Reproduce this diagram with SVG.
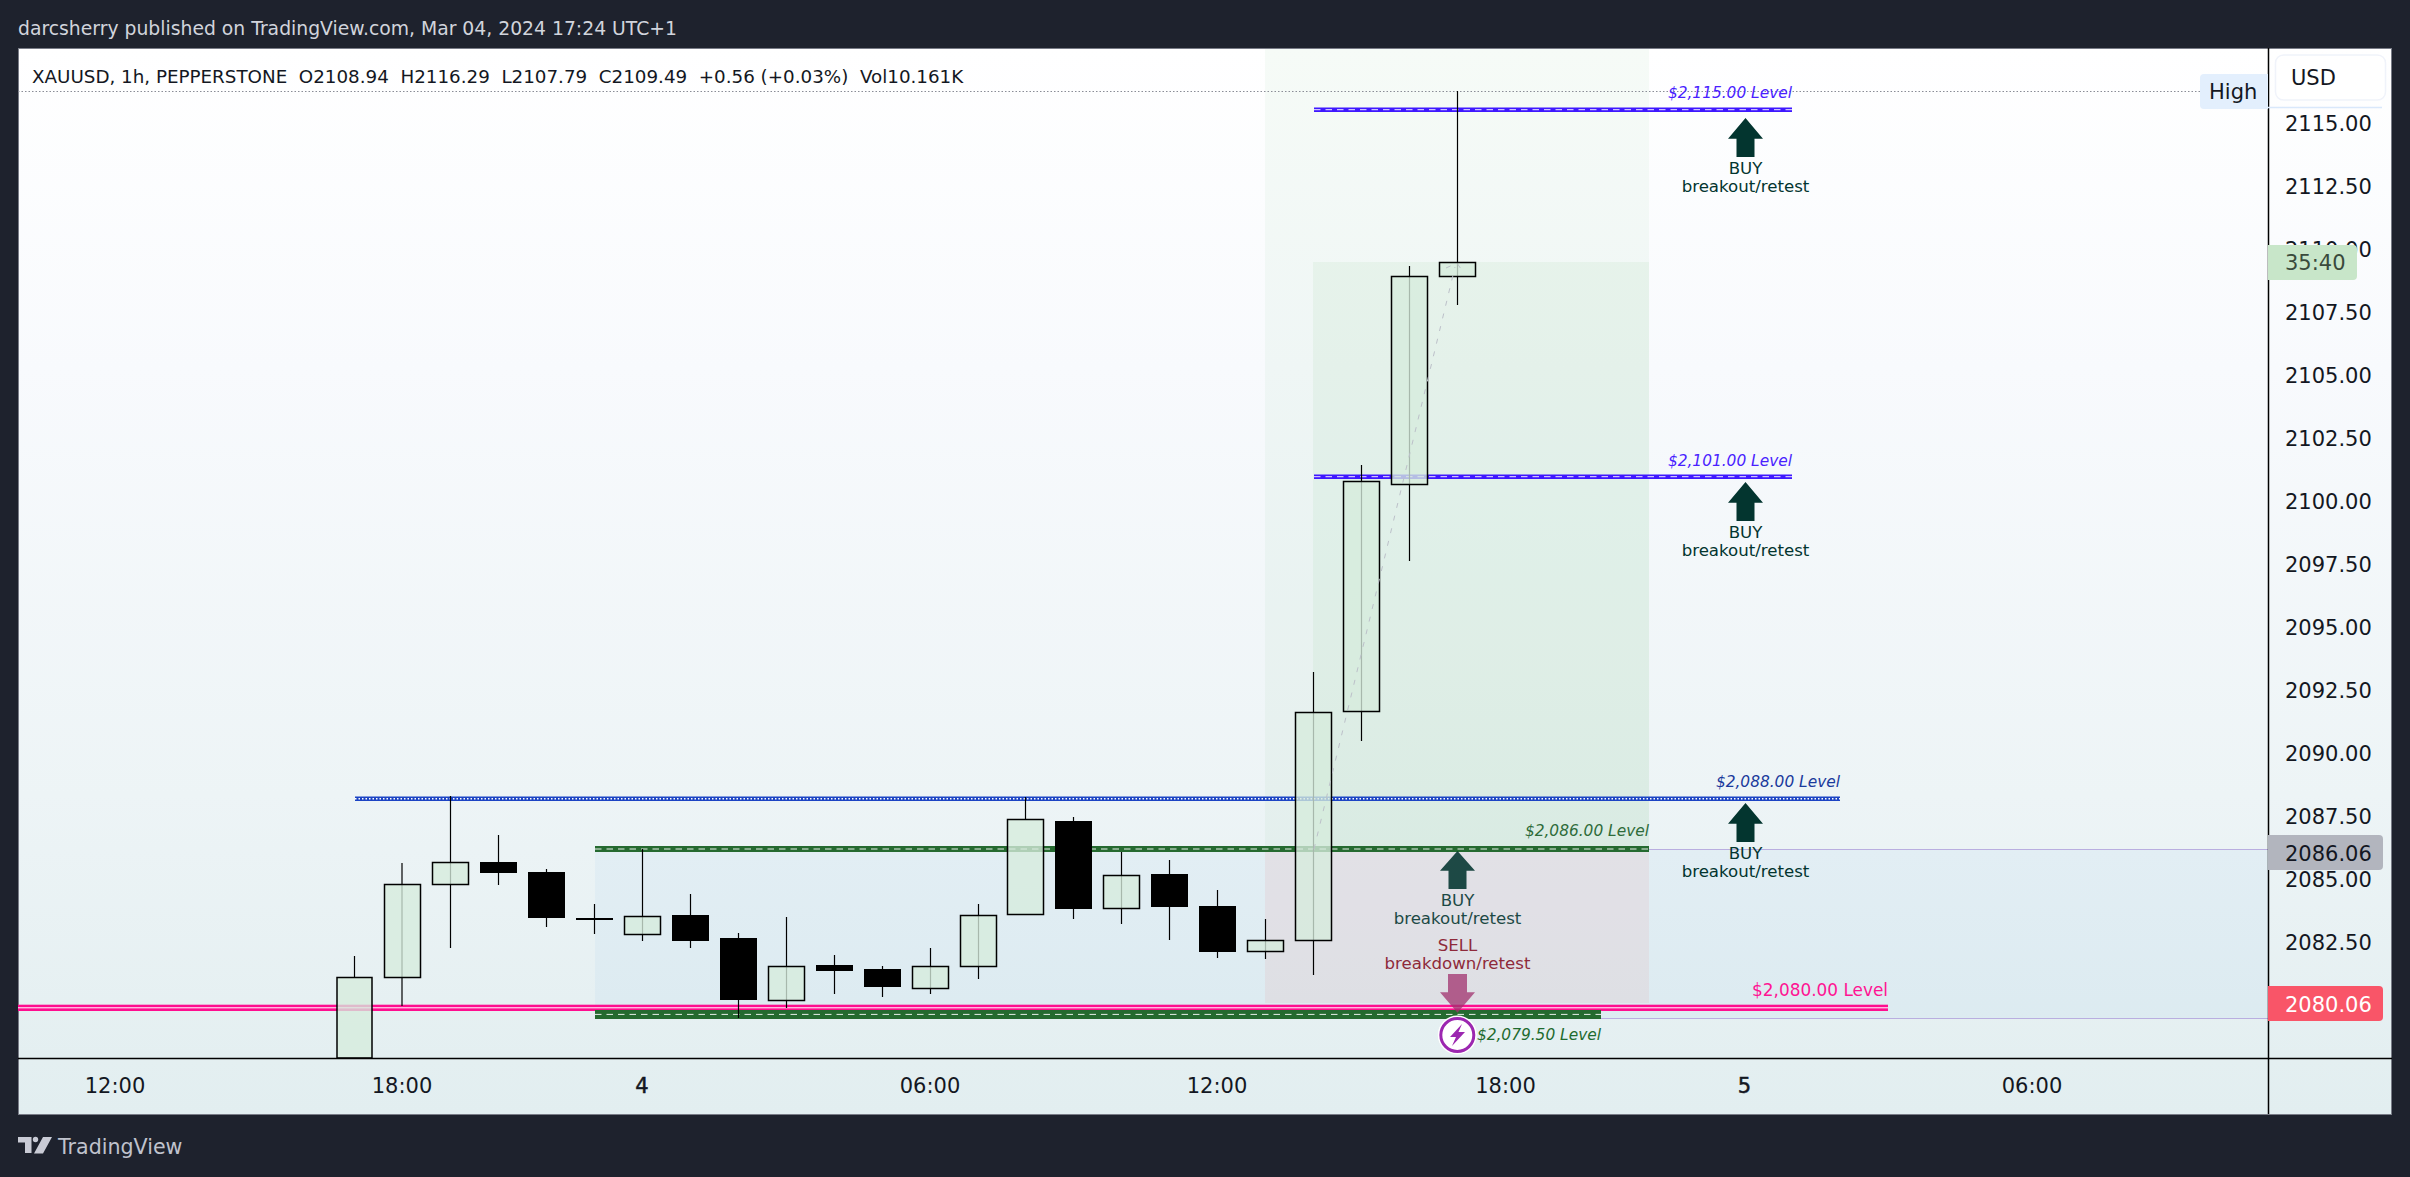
<svg xmlns="http://www.w3.org/2000/svg" width="2410" height="1177" viewBox="0 0 2410 1177">
<style>
text{font-family:"DejaVu Sans","Liberation Sans",sans-serif}
.up{fill:#d6ecdc;fill-opacity:.78;stroke:#000;stroke-width:1.5}
.dn{fill:#000}
.w{stroke:#000;stroke-width:1.2;fill:none}
.ax{font-size:21px;fill:#131722}
.tm{font-size:21px;fill:#131722;text-anchor:middle}
.md{stroke:#131722;stroke-width:.5}
.lv{font-size:15.4px;font-style:italic;text-anchor:end}
.bl{font-size:16.6px;fill:#03352f;text-anchor:middle}
.sl{font-size:16.6px;fill:#8e2a3a;text-anchor:middle}
.ar{fill:#03352f}
.ds{stroke:#fff;stroke-width:.9;stroke-dasharray:6.5 5;fill:none}
.do{stroke:#fff;stroke-width:1.5;stroke-dasharray:1.5 2;fill:none}
</style>
<defs>
<linearGradient id="bg" x1="0" y1="0" x2="0" y2="1">
<stop offset="0" stop-color="#fff"/><stop offset=".3" stop-color="#f8fafd"/><stop offset=".7" stop-color="#edf4f6"/><stop offset="1" stop-color="#e2eef0"/>
</linearGradient>
</defs>
<rect width="2410" height="1177" fill="#1e222d"/>
<text x="18" y="35" font-size="18.8" fill="#d1d4dc">darcsherry published on TradingView.com, Mar 04, 2024 17:24 UTC+1</text>
<rect id="chart" x="18.5" y="48.5" width="2373" height="1066" fill="url(#bg)" stroke="#787b86"/>

<g id="zones">
<rect x="595" y="850" width="1673" height="168" fill="#5aa8f5" fill-opacity=".06"/>
<path d="M1649 849.5H2268M1601 1018.5H2268" stroke="#b9aee0" stroke-width="1.2" fill="none"/>
<rect x="1265" y="49" width="384" height="801" fill="#7cc98a" fill-opacity=".07"/>
<rect x="1313" y="262" width="336" height="588" fill="#7cc98a" fill-opacity=".09"/>
<rect x="1265" y="850" width="384" height="153" fill="#e8a0a0" fill-opacity=".156"/>
</g>
<path id="high-line" d="M18 91.5H2200" stroke="#8a8d96" stroke-width="1" stroke-dasharray="1.5 2" fill="none"/>

<g id="level-2115"><rect x="1314" y="107.5" width="478" height="4.5" fill="#3f18ff"/><path class="ds" d="M1314 109.7H1792"/><text class="lv" x="1792" y="98" fill="#4a1fff">$2,115.00 Level</text></g>
<g id="level-2101"><rect x="1314" y="474.5" width="478" height="4.5" fill="#3f18ff"/><path class="ds" d="M1314 476.7H1792"/><text class="lv" x="1792" y="466" fill="#4a1fff">$2,101.00 Level</text></g>
<g id="level-2088"><rect x="355" y="796.5" width="1485" height="4.5" fill="#1c44c4"/><path class="do" d="M355 798.7H1840"/><text class="lv" x="1840" y="787" fill="#1a3a9c">$2,088.00 Level</text></g>
<g id="level-2086"><rect x="595" y="846" width="1054" height="6" fill="#256a30"/><path class="ds" d="M595 849H1649"/><text class="lv" x="1649" y="836" fill="#2e6b3a">$2,086.00 Level</text></g>
<g id="level-2080"><rect x="18" y="1004.7" width="1870" height="6.3" fill="#ff0d8f"/><path d="M18 1007.8H1888" stroke="#fff" stroke-width="1" fill="none"/><text class="lv" x="1888" y="996" fill="#ff1493" style="font-style:normal;font-size:16.9px">$2,080.00 Level</text></g>
<g id="level-2079"><rect x="595" y="1010" width="1006" height="9" fill="#256a30"/><path class="ds" d="M595 1014.4H1601"/><text class="lv" x="1601" y="1040" fill="#1f6b2f">$2,079.50 Level</text></g>

<g id="candles">
<g id="c1"><path class="w" d="M354.5 956V977"/><path class="up" d="M337 977.5H372V1058H337Z"/></g>
<g id="c2"><path class="w" d="M402 863V1006"/><rect class="up" x="384.5" y="884.5" width="36" height="93"/></g>
<g id="c3"><path class="w" d="M450.5 796V948"/><rect class="up" x="432.5" y="862.5" width="36" height="22"/></g>
<g id="c4"><path class="w" d="M498.5 835V885"/><rect class="dn" x="480" y="862" width="37" height="11"/></g>
<g id="c5"><path class="w" d="M546.5 869V927"/><rect class="dn" x="528" y="872" width="37" height="46"/></g>
<g id="c6"><path class="w" d="M594.5 904V934"/><rect class="dn" x="576" y="918" width="37" height="2"/></g>
<g id="c7"><path class="w" d="M642.5 849V941"/><rect class="up" x="624.5" y="916.5" width="36" height="18"/></g>
<g id="c8"><path class="w" d="M690.5 894V948"/><rect class="dn" x="672" y="915" width="37" height="26"/></g>
<g id="c9"><path class="w" d="M738.5 933V1018"/><rect class="dn" x="720" y="938" width="37" height="62"/></g>
<g id="c10"><path class="w" d="M786.5 917V1008"/><rect class="up" x="768.5" y="966.5" width="36" height="34"/></g>
<g id="c11"><path class="w" d="M834.5 955V994"/><rect class="dn" x="816" y="965" width="37" height="6"/></g>
<g id="c12"><path class="w" d="M882.5 966V997"/><rect class="dn" x="864" y="969" width="37" height="18"/></g>
<g id="c13"><path class="w" d="M930.5 948V994"/><rect class="up" x="912.5" y="966.5" width="36" height="22"/></g>
<g id="c14"><path class="w" d="M978.5 904V979"/><rect class="up" x="960.5" y="915.5" width="36" height="51"/></g>
<g id="c15"><path class="w" d="M1025.5 797V819"/><rect class="up" x="1007.5" y="819.5" width="36" height="95"/></g>
<g id="c16"><path class="w" d="M1073.5 817V919"/><rect class="dn" x="1055" y="821" width="37" height="88"/></g>
<g id="c17"><path class="w" d="M1121.5 852V924"/><rect class="up" x="1103.5" y="875.5" width="36" height="33"/></g>
<g id="c18"><path class="w" d="M1169.5 860V940"/><rect class="dn" x="1151" y="874" width="37" height="33"/></g>
<g id="c19"><path class="w" d="M1217.5 890V958"/><rect class="dn" x="1199" y="906" width="37" height="46"/></g>
<g id="c20"><path class="w" d="M1265.5 919V959"/><rect class="up" x="1247.5" y="940.5" width="36" height="11"/></g>
<g id="c21"><path class="w" d="M1313.5 672V975"/><rect class="up" x="1295.5" y="712.5" width="36" height="228"/></g>
<g id="c22"><path class="w" d="M1361.5 465V741"/><rect class="up" x="1343.5" y="481.5" width="36" height="230"/></g>
<g id="c23"><path class="w" d="M1409.5 266V561"/><rect class="up" x="1391.5" y="276.5" width="36" height="208"/></g>
<g id="c24"><path class="w" d="M1457.5 91V305"/><rect class="up" x="1439.5" y="262.5" width="36" height="14"/></g>
</g>

<g id="connectors">
<path d="M1314 849L1455 267M1446 268L1457 263L1463 272" stroke="#bcc0c9" stroke-width="1" stroke-dasharray="5 8" fill="none"/>
</g>

<g id="buy-2115"><path class="ar" d="M1745.5 118L1763 138.7H1754.5V157H1736.5V138.7H1728Z"/><text class="bl" x="1745.5" y="174">BUY</text><text class="bl" x="1745.5" y="192">breakout/retest</text></g>
<g id="buy-2101"><path class="ar" d="M1745.5 482L1763 502.7H1754.5V521H1736.5V502.7H1728Z"/><text class="bl" x="1745.5" y="538">BUY</text><text class="bl" x="1745.5" y="556">breakout/retest</text></g>
<g id="buy-2088"><path class="ar" d="M1745.5 803L1763 823.7H1754.5V842H1736.5V823.7H1728Z"/><text class="bl" x="1745.5" y="859">BUY</text><text class="bl" x="1745.5" y="877">breakout/retest</text></g>
<g id="buy-2086" opacity=".88"><path class="ar" d="M1457.5 851L1475 870.7H1466.5V889H1448.5V870.7H1440Z"/><text class="bl" x="1457.5" y="906">BUY</text><text class="bl" x="1457.5" y="924">breakout/retest</text></g>
<g id="sell-2080"><text class="sl" x="1457.5" y="951">SELL</text><text class="sl" x="1457.5" y="969">breakdown/retest</text><path d="M1448 974H1467V992.3H1475L1457.5 1012.7L1440 992.3H1448Z" fill="#a0326e" fill-opacity=".75"/></g>
<g id="flash"><circle cx="1457.3" cy="1035" r="19.5" fill="#fff"/><circle cx="1457.3" cy="1035" r="16.5" fill="#fff" stroke="#9c27b0" stroke-width="3"/><path d="M1462 1024L1450 1037H1456L1452 1046L1465 1032H1458.5Z" fill="#9c27b0"/></g>

<g id="legend"><text x="32" y="83" font-size="18.3" fill="#131722" xml:space="preserve">XAUUSD, 1h, PEPPERSTONE  O2108.94  H2116.29  L2107.79  C2109.49  +0.56 (+0.03%)  Vol10.161K</text></g>

<g id="axes">
<path d="M2268.5 48V1114M18 1058.5H2392" stroke="#000" stroke-width="1.5" fill="none"/>
<text class="tm" x="115" y="1093">12:00</text>
<text class="tm" x="402" y="1093">18:00</text>
<text class="tm md" x="642" y="1093">4</text>
<text class="tm" x="930" y="1093">06:00</text>
<text class="tm" x="1217" y="1093">12:00</text>
<text class="tm" x="1505.5" y="1093">18:00</text>
<text class="tm md" x="1744.5" y="1093">5</text>
<text class="tm" x="2032" y="1093">06:00</text>
<text class="ax" x="2285" y="131">2115.00</text>
<text class="ax" x="2285" y="194">2112.50</text>
<text class="ax" x="2285" y="257">2110.00</text>
<text class="ax" x="2285" y="320">2107.50</text>
<text class="ax" x="2285" y="383">2105.00</text>
<text class="ax" x="2285" y="446">2102.50</text>
<text class="ax" x="2285" y="509">2100.00</text>
<text class="ax" x="2285" y="572">2097.50</text>
<text class="ax" x="2285" y="635">2095.00</text>
<text class="ax" x="2285" y="698">2092.50</text>
<text class="ax" x="2285" y="761">2090.00</text>
<text class="ax" x="2285" y="824">2087.50</text>
<text class="ax" x="2285" y="887">2085.00</text>
<text class="ax" x="2285" y="950">2082.50</text>
</g>

<g id="usd"><path d="M2268 107.5H2382" stroke="#d9e8fb" stroke-width="1.5"/><rect x="2275.5" y="55" width="110" height="45" rx="8" fill="#fff" stroke="#f0f3fa" stroke-width="1.5"/><text x="2291" y="85" font-size="21" fill="#131722">USD</text></g>
<g id="high-tag"><path d="M2268 74H2204a4 4 0 0 0-4 4V105a4 4 0 0 0 4 4H2268Z" fill="#e3effd"/><text x="2209" y="99" font-size="21" fill="#131722">High</text></g>
<g id="countdown"><path d="M2268 245H2353a4 4 0 0 1 4 4V276a4 4 0 0 1-4 4H2268Z" fill="#c8e6c9"/><text x="2285" y="270" font-size="21" fill="#3a4a3c">35:40</text></g>
<g id="tag-2086"><path d="M2268 835H2379a4 4 0 0 1 4 4V866a4 4 0 0 1-4 4H2268Z" fill="#b2b5be"/><text x="2285" y="861" font-size="21" fill="#131722">2086.06</text></g>
<g id="tag-2080"><path d="M2268 986H2379a4 4 0 0 1 4 4V1017a4 4 0 0 1-4 4H2268Z" fill="#f95568"/><text x="2285" y="1012" font-size="21" fill="#fff">2080.06</text></g>

<g id="brand"><path d="M18 1137H31.5V1153H25V1142.5H18Z M43 1137H52L43 1153.5H34Z" fill="#c9cbd5"/><circle cx="35.5" cy="1139.5" r="2.7" fill="#c9cbd5"/><text x="58" y="1154" font-size="20.6" fill="#c0c3cd">TradingView</text></g>
</svg>
